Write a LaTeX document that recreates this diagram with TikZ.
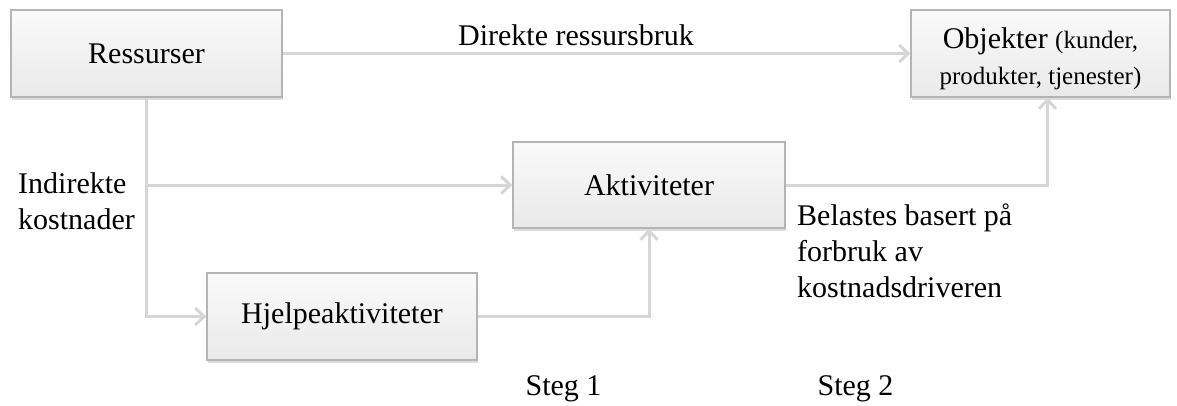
\documentclass[tikz,border=0pt]{standalone}
\usepackage{fontspec}
\setmainfont{Liberation Serif}
\usetikzlibrary{positioning, arrows.meta, shadows, calc}

\definecolor{flowgray}{HTML}{D6D6D6}
\definecolor{boxline}{HTML}{B4B4B4}

\begin{document}
\begin{tikzpicture}[
    x=1pt, y=-1pt,
    costbox/.style={rectangle, draw=boxline, line width=1.2pt,
                    top color=gray!4, bottom color=gray!17,
                    minimum height=87pt, inner sep=2pt, align=center,
                    font=\fontsize{30}{36}\selectfont,
                    drop shadow={shadow xshift=1pt, shadow yshift=-2.5pt, fill=gray!55}},
    flow/.style={-{Straight Barb[length=9pt, width=17pt]}, line width=3pt, draw=flowgray},
    label/.style={font=\fontsize{30}{36}\selectfont, inner sep=0pt}
]
    \useasboundingbox (0,0) rectangle (1177,405);

    % Boxes
    \node[costbox, minimum width=271pt] (ress) at (146.5, 53.5) {Ressurser};
    \node[costbox, minimum width=259pt] (obj) at (1040.5, 53.5)
        {\rule{0pt}{31pt}Objekter {\fontsize{25}{30}\selectfont (kunder,}\\[0pt]
         {\fontsize{25}{30}\selectfont produkter, tjenester)}};
    \node[costbox, minimum width=272pt, minimum height=86pt] (akt) at (649, 185) {Aktiviteter};
    \node[costbox, minimum width=270pt] (hjelp) at (342, 316.5) {Hjelpeaktiviteter};

    % Arrows
    \draw[flow] (ress.east) -- (obj.west);
    \draw[flow] (ress.south) |- (akt.west);
    \draw[flow] (ress.south) |- (hjelp.west);
    \draw[flow] (hjelp.east) -| (akt.south);
    \draw[flow] (akt.east) -| ([xshift=7pt]obj.south);

    % Labels
    \node[label, anchor=base] (direkte) at (576, 45) {Direkte ressursbruk};
    \node[label, anchor=west, align=left] (indirekte) at (18, 201) {Indirekte\\kostnader};
    \node[label, anchor=west, align=left] (belastes) at (797, 251)
        {Belastes basert på\\forbruk av\\kostnadsdriveren};
    \node[label, anchor=base] (steg1) at (563.5, 395) {Steg 1};
    \node[label, anchor=base] (steg2) at (855.5, 395) {Steg 2};

\end{tikzpicture}
\end{document}
